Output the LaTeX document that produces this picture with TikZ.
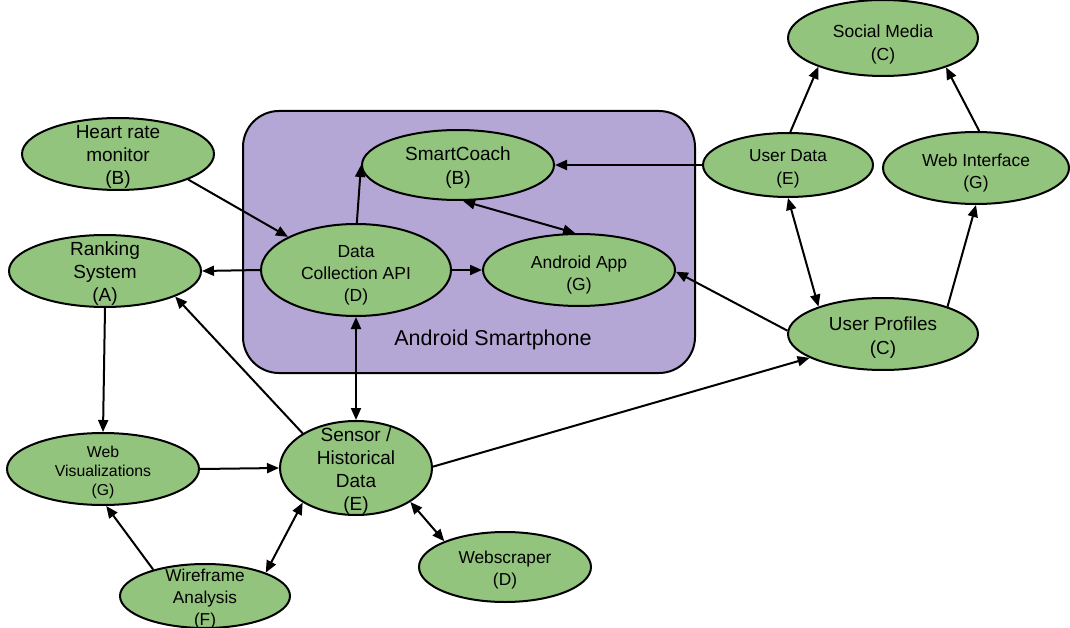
\documentclass[tikz,border=0pt]{standalone}
\usepackage{fontspec}
\setmainfont{Liberation Sans}
\usetikzlibrary{shapes.geometric,arrows.meta}
\definecolor{grn}{HTML}{93C47D}
\definecolor{purp}{HTML}{B4A7D6}
\begin{document}
\begin{tikzpicture}[x=1pt,y=-1pt,
  ell/.style={ellipse, draw=black, line width=2pt, fill=grn, inner sep=0pt},
  txt/.style={align=center, inner sep=0pt, text=black, yshift=-3pt},
  conn/.style={line width=2pt},
  >={Triangle[length=12pt,width=10pt]}]
\useasboundingbox (0,0) rectangle (1070,628);

% Android smartphone container
\node[draw=black, line width=2pt, fill=purp, rounded corners=36pt,
      minimum width=452pt, minimum height=262pt, inner sep=0pt] (phone) at (469,242) {};
\node[txt, font=\fontsize{21.5}{25}\selectfont] (phonelbl) at (493,337) {Android Smartphone};

% nodes
\node[ell, minimum width=192pt, minimum height=72pt,
  label={[txt,font=\fontsize{19}{23}\selectfont]center:{Heart rate\\monitor\\(B)}}] (hr) at (118,154) {};
\node[ell, minimum width=192pt, minimum height=72pt,
  label={[txt,font=\fontsize{19}{23}\selectfont]center:{Ranking\\System\\(A)}}] (rank) at (105,271) {};
\node[ell, minimum width=190pt, minimum height=92pt,
  label={[txt,font=\fontsize{17.5}{22}\selectfont,yshift=-2pt]center:{Data\\Collection API\\(D)}}] (dca) at (356,270) {};
\node[ell, minimum width=192pt, minimum height=70pt,
  label={[txt,font=\fontsize{19}{24}\selectfont]center:{SmartCoach\\(B)}}] (sc) at (458,165) {};
\node[ell, minimum width=192pt, minimum height=72pt,
  label={[txt,font=\fontsize{17.5}{22}\selectfont,yshift=-2pt]center:{Android App\\(G)}}] (app) at (579,270) {};
\node[ell, minimum width=190pt, minimum height=76pt,
  label={[txt,font=\fontsize{17.5}{23}\selectfont,yshift=-3pt]center:{Social Media\\(C)}}] (sm) at (883,38) {};
\node[ell, minimum width=170pt, minimum height=64pt,
  label={[txt,font=\fontsize{17.3}{23}\selectfont,yshift=-1pt]center:{User Data\\(E)}}] (ud) at (788,165) {};
\node[ell, minimum width=186pt, minimum height=72pt,
  label={[txt,font=\fontsize{17.4}{22}\selectfont,yshift=-2pt]center:{Web Interface\\(G)}}] (wi) at (976,168) {};
\node[ell, minimum width=190pt, minimum height=72pt,
  label={[txt,font=\fontsize{18.9}{24}\selectfont,yshift=-1pt]center:{User Profiles\\(C)}}] (up) at (883,334) {};
\node[ell, minimum width=192pt, minimum height=72pt,
  label={[txt,font=\fontsize{15.8}{19}\selectfont]center:{Web\\Visualizations\\(G)}}] (wv) at (103,469) {};
\node[ell, minimum width=152pt, minimum height=94pt,
  label={[txt,font=\fontsize{19}{23}\selectfont]center:{Sensor /\\Historical\\Data\\(E)}}] (sen) at (356,468) {};
\node[ell, minimum width=170pt, minimum height=64pt,
  label={[txt,font=\fontsize{17.2}{22}\selectfont]center:{Wireframe\\Analysis\\(F)}}] (wf) at (205,596) {};
\node[ell, minimum width=172pt, minimum height=70pt,
  label={[txt,font=\fontsize{17.3}{22}\selectfont]center:{Webscraper\\(D)}}] (ws) at (505,567) {};

% connectors
\draw[conn,->] (hr.-20) -- (dca.154);
\draw[conn,->] (dca.west) -- (rank.east);
\draw[conn,->] (dca.89) -- (sc.west);
\draw[conn,<->] (sc.-82) -- (app.96);
\draw[conn,->] (dca.east) -- (app.west);
\draw[conn,->] (ud.west) -- (sc.east);
\draw[conn,->] (ud.86) -- (sm.204);
\draw[conn,->] (wi.85) -- (sm.-25);
\draw[conn,<->] (ud.south) -- (up.157);
\draw[conn,->] (up.23) -- (wi.south);
\draw[conn,->] (up.178) -- (app.-1);
\draw[conn,->] (sen.1.5) -- (up.198);
\draw[conn,->] (sen.147) -- (rank.-20);
\draw[conn,<->] (dca.south) -- (sen.north);
\draw[conn,->] (rank.south) -- (wv.north);
\draw[conn,->] (wv.east) -- (sen.west);
\draw[conn,->] (wf.153) -- (wv.-85);
\draw[conn,<->] (wf.21) -- (sen.213);
\draw[conn,<->] (sen.-32) -- (ws.157);
\end{tikzpicture}
\end{document}
